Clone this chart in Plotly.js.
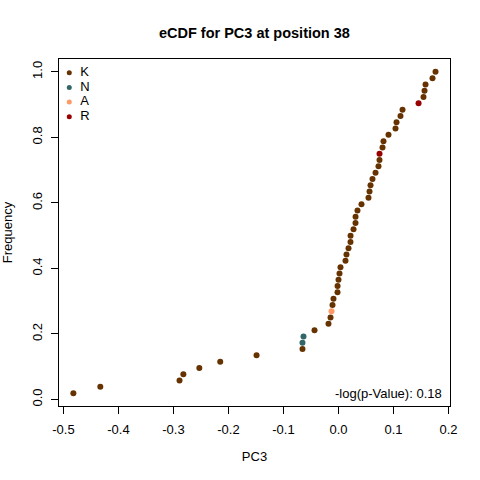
<!DOCTYPE html>
<html>
<head>
<meta charset="utf-8">
<script src="https://cdn.plot.ly/plotly-3.0.1.min.js"></script>
<style>html,body{margin:0;padding:0;background:#fff;}#chart{width:480px;height:480px;}</style>
</head>
<body>
<div id="chart"></div>
<script>
// PC3 values (sorted)
const pc3 = [-0.482, -0.433, -0.289, -0.282, -0.253, -0.215, -0.149,
  -0.0655, -0.0655, -0.0636, -0.0436, -0.0182, -0.0145, -0.0127, -0.0109, -0.0091,
  -0.0018, -0.0017, 0.0, 0.0018, 0.0036, 0.0127, 0.0145, 0.0182, 0.0218,
  0.0219, 0.0273, 0.0309, 0.0310, 0.0345, 0.0418, 0.0545, 0.0564, 0.0582, 0.0618,
  0.0673, 0.0727, 0.0745, 0.0746, 0.0800, 0.0818, 0.0909, 0.1036, 0.1055, 0.1127,
  0.1164, 0.1455, 0.1545, 0.1564, 0.1582, 0.1709, 0.1764];
// residue of each point
const residue = ["K","K","K","K","K","K","K",
  "K","N","N","K","K","K","A","K","K",
  "K","K","K","K","K","K","K","K","K",
  "K","K","K","K","K","K","K","K","K","K",
  "K","K","K","R","K","K","K","K","K","K",
  "K","R","K","K","K","K","K"];
const legendLabels = ["K","N","A","R"];
const legendColors = ["#663300","#336666","#FF9966","#990000"];
const xTicks = [-0.5,-0.4,-0.3,-0.2,-0.1,0.0,0.1,0.2];
const xTickText = ["-0.5","-0.4","-0.3","-0.2","-0.1","0.0","0.1","0.2"];
const yTicks = [0,0.2,0.4,0.6,0.8,1.0];
const yTickText = ["0.0","0.2","0.4","0.6","0.8","1.0"];
const pValueText = "-log(p-Value): 0.18";

const n = pc3.length;
const freq = pc3.map((v,i)=>(i+1)/n);
const colorOf = {};
legendLabels.forEach((l,i)=>colorOf[l]=legendColors[i]);

const F = "Liberation Sans, Arial, sans-serif";
const traces = [{
  x: pc3, y: freq, type:"scatter", mode:"markers",
  marker:{size:6, color: residue.map(r=>colorOf[r])},
  showlegend:false, hoverinfo:"x+y"
},{
  x: legendLabels.map(()=>0.0263), y: legendLabels.map((l,i)=>i),
  xaxis:"x2", yaxis:"y2",
  type:"scatter", mode:"markers",
  marker:{size:5, color: legendColors},
  showlegend:false, hoverinfo:"skip", cliponaxis:false
},{
  x: legendLabels.map(()=>0.0545), y: legendLabels.map((l,i)=>i),
  text: legendLabels, xaxis:"x2", yaxis:"y2",
  type:"scatter", mode:"text", textposition:"middle right",
  textfont:{family:F, size:13, color:"#000"},
  showlegend:false, hoverinfo:"skip", cliponaxis:false
}];

const layout = {
  width:480, height:480,
  margin:{l:59, r:30, t:59, b:74},
  paper_bgcolor:"#fff", plot_bgcolor:"#fff",
  font:{family:F, size:13, color:"#000"},
  title:{text:"<b>eCDF for PC3 at position 38</b>", font:{family:F, size:14.5, color:"#000"},
         x:0.53, xanchor:"center", y:0.931, yanchor:"middle"},
  xaxis:{range:[-0.5081,0.2027], tickvals:xTicks, ticktext:xTickText,
    showline:true, mirror:true, linecolor:"#000", linewidth:1,
    ticks:"outside", ticklen:7, tickcolor:"#000", showgrid:false, zeroline:false,
    tickfont:{family:F,size:13}, ticklabelstandoff:4,
    title:{text:"PC3", font:{family:F,size:13}, standoff:16}},
  yaxis:{range:[-0.0200,1.0392], tickvals:yTicks, ticktext:yTickText,
    showline:true, mirror:true, linecolor:"#000", linewidth:1,
    ticks:"outside", ticklen:7, tickcolor:"#000", showgrid:false, zeroline:false,
    tickangle:-90, tickfont:{family:F,size:13}, ticklabelstandoff:4,
    title:{text:"Frequency", font:{family:F,size:13}, standoff:14}},
  xaxis2:{range:[0,1], domain:[0,1], anchor:"y2", overlaying:"x", visible:false},
  yaxis2:{range:[22.67,-0.932], domain:[0,1], anchor:"x2", overlaying:"y", visible:false},
  annotations:[{text:pValueText, xref:"paper", yref:"paper", x:1, y:0,
    xanchor:"right", yanchor:"middle", xshift:-6, yshift:13, showarrow:false,
    font:{family:F,size:13,color:"#000"}}]
};
Plotly.newPlot("chart", traces, layout, {displayModeBar:false, staticPlot:true});
</script>
</body>
</html>
